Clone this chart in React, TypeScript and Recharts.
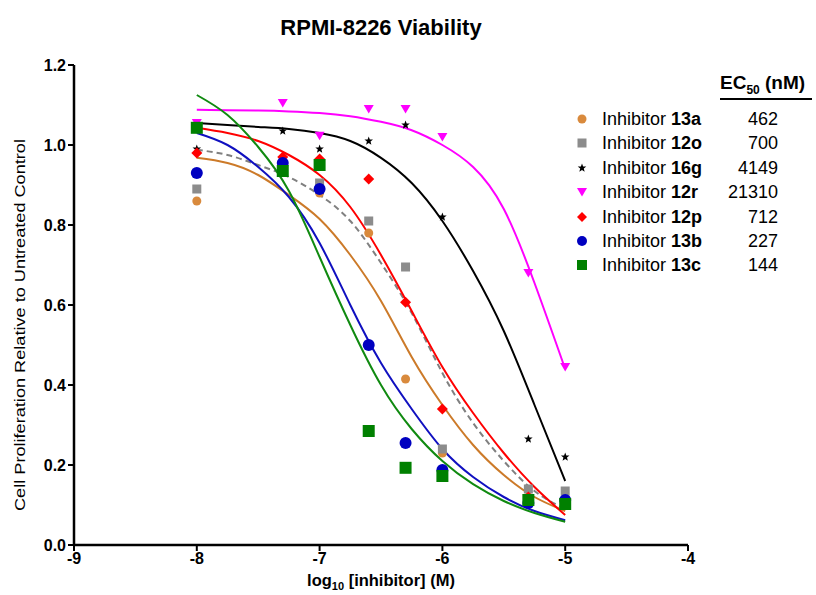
import React from "react";
import { ComposedChart, Line, Scatter, XAxis, YAxis } from "recharts";

const doseLog = [-8, -7.3, -7, -6.6, -6.3, -6, -5.3, -5];
const fitLog = [-8, -7.75, -7.5, -7.25, -7, -6.75, -6.5, -6.25, -6, -5.75, -5.5, -5.25, -5];

const xTicks = [-9, -8, -7, -6, -5, -4];
const yTicks = [0, 0.2, 0.4, 0.6, 0.8, 1.0, 1.2];

const pts13a = [0.86, 0.94, 0.88, 0.78, 0.415, 0.23, 0.12, 0.11];
const pts12o = [0.89, 0.94, 0.905, 0.81, 0.695, 0.24, 0.14, 0.135];
const pts16g = [0.99, 1.035, 0.99, 1.01, 1.05, 0.82, 0.265, 0.22];
const pts12r = [1.055, 1.105, 1.023, 1.09, 1.09, 1.02, 0.68, 0.445];
const pts12p = [0.98, 0.97, 0.965, 0.915, 0.607, 0.34, 0.12, 0.11];
const pts13b = [0.93, 0.955, 0.89, 0.5, 0.255, 0.1875, 0.105, 0.1125];
const pts13c = [1.043, 0.935, 0.95, 0.285, 0.193, 0.1725, 0.1125, 0.1025];

const fit13a = [0.968, 0.955, 0.925, 0.875, 0.815, 0.725, 0.61, 0.47, 0.35, 0.25, 0.175, 0.12, 0.085];
const fit12o = [0.988, 0.975, 0.95, 0.92, 0.875, 0.81, 0.705, 0.58, 0.43, 0.305, 0.21, 0.135, 0.09];
const fit16g = [1.055, 1.05, 1.045, 1.04, 1.03, 1.01, 0.968, 0.905, 0.81, 0.685, 0.535, 0.35, 0.16];
const fit12r = [1.088, 1.087, 1.086, 1.084, 1.08, 1.072, 1.058, 1.037, 1.0, 0.945, 0.84, 0.655, 0.44];
const fit12p = [1.043, 1.03, 1.01, 0.975, 0.925, 0.845, 0.725, 0.585, 0.445, 0.33, 0.23, 0.145, 0.075];
const fit13b = [1.03, 1.0, 0.945, 0.87, 0.755, 0.6, 0.455, 0.34, 0.24, 0.17, 0.12, 0.085, 0.062];
const fit13c = [1.125, 1.075, 0.995, 0.885, 0.72, 0.55, 0.4, 0.29, 0.21, 0.152, 0.11, 0.08, 0.058];

const names = ["13a", "12o", "16g", "12r", "12p", "13b", "13c"];
const ec50 = ["462", "700", "4149", "21310", "712", "227", "144"];

type Kind = "circle" | "square" | "star" | "triDown" | "diamond";

const series = [
  { code: names[0], ec: ec50[0], color: "#D98A3D", line: "#CC7A29", kind: "circle" as Kind, size: 9, pts: pts13a, fit: fit13a },
  { code: names[1], ec: ec50[1], color: "#8C8C8C", line: "#808080", kind: "square" as Kind, size: 9, pts: pts12o, fit: fit12o, dash: "6 4" },
  { code: names[2], ec: ec50[2], color: "#000000", line: "#000000", kind: "star" as Kind, size: 9, pts: pts16g, fit: fit16g },
  { code: names[3], ec: ec50[3], color: "#FF00FF", line: "#FF00FF", kind: "triDown" as Kind, size: 10, pts: pts12r, fit: fit12r },
  { code: names[4], ec: ec50[4], color: "#FF0000", line: "#FF0000", kind: "diamond" as Kind, size: 11, pts: pts12p, fit: fit12p },
  { code: names[5], ec: ec50[5], color: "#0000C0", line: "#1010C0", kind: "circle" as Kind, size: 12, pts: pts13b, fit: fit13b },
  { code: names[6], ec: ec50[6], color: "#008000", line: "#108A10", kind: "square" as Kind, size: 12, pts: pts13c, fit: fit13c },
];

const FONT = "'Liberation Sans', Arial, sans-serif";

function Marker({ kind, color, cx, cy, size }: { kind: Kind; color: string; cx: number; cy: number; size: number }) {
  const h = size / 2;
  if (kind === "circle") return <circle cx={cx} cy={cy} r={h} fill={color} />;
  if (kind === "square") return <rect x={cx - h} y={cy - h} width={size} height={size} fill={color} />;
  if (kind === "diamond")
    return <polygon points={`${cx},${cy - h} ${cx + h},${cy} ${cx},${cy + h} ${cx - h},${cy}`} fill={color} />;
  if (kind === "triDown")
    return <polygon points={`${cx - h},${cy - h * 0.8} ${cx + h},${cy - h * 0.8} ${cx},${cy + h * 0.9}`} fill={color} />;
  const pts: string[] = [];
  for (let i = 0; i < 10; i++) {
    const r = i % 2 === 0 ? h : h * 0.42;
    const a = -Math.PI / 2 + (i * Math.PI) / 5;
    pts.push(`${cx + r * Math.cos(a)},${cy + r * Math.sin(a)}`);
  }
  return <polygon points={pts.join(" ")} fill={color} />;
}

function XLabel(props: any) {
  const vb = props.viewBox || {};
  const cx = vb.x + vb.width / 2;
  return (
    <text x={cx} y={vb.y + 41} textAnchor="middle" fontFamily={FONT} fontWeight="bold" fontSize={16.5} fill="#000">
      log
      <tspan fontSize={11} dy={4}>10</tspan>
      <tspan dy={-4}> [inhibitor] (M)</tspan>
    </text>
  );
}

function YLabel(props: any) {
  const vb = props.viewBox || {};
  const cy = vb.y + vb.height / 2 + 20;
  return (
    <text
      x={25}
      y={cy}
      transform={`rotate(-90 25 ${cy})`}
      textAnchor="middle"
      fontFamily={FONT}
      fontSize={15}
      textLength={372}
      lengthAdjust="spacingAndGlyphs"
      fill="#000"
    >
      Cell Proliferation Relative to Untreated Control
    </text>
  );
}

export default function App() {
  return (
    <div style={{ position: "absolute", left: 0, top: 0, width: 816, height: 595, background: "#fff", fontFamily: FONT }}>
      <div style={{ position: "absolute", left: 0, width: 762, top: 15, textAlign: "center", fontWeight: "bold", fontSize: 22 }}>
        RPMI-8226 Viability
      </div>

      <ComposedChart width={816} height={595} margin={{ top: 65, right: 128, bottom: 20, left: 14 }}>
        <XAxis
          type="number"
          dataKey="x"
          domain={[-9, -4]}
          ticks={xTicks}
          allowDataOverflow
          height={30}
          tickSize={6}
          tick={{ fill: "#000", fontSize: 16, fontWeight: "bold", fontFamily: FONT }}
          axisLine={{ stroke: "#000", strokeWidth: 2.5 }}
          tickLine={{ stroke: "#000", strokeWidth: 2 }}
          label={<XLabel />}
        />
        <YAxis
          type="number"
          domain={[0, 1.2]}
          ticks={yTicks}
          allowDataOverflow
          width={60}
          tickSize={6}
          tickFormatter={(v: number) => v.toFixed(1)}
          tick={{ fill: "#000", fontSize: 16, fontWeight: "bold", fontFamily: FONT }}
          axisLine={{ stroke: "#000", strokeWidth: 2.5 }}
          tickLine={{ stroke: "#000", strokeWidth: 2 }}
          label={<YLabel />}
        />
        {series.map((s) => (
          <Line
            key={"fit" + s.code}
            data={fitLog.map((x, i) => ({ x, y: s.fit[i] }))}
            dataKey="y"
            type="natural"
            stroke={s.line}
            strokeWidth={2}
            strokeDasharray={s.dash}
            dot={false}
            activeDot={false}
            isAnimationActive={false}
          />
        ))}
        {series.map((s) => (
          <Scatter
            key={"pts" + s.code}
            data={doseLog.map((x, i) => ({ x, y: s.pts[i] }))}
            dataKey="y"
            isAnimationActive={false}
            shape={(p: any) => <Marker kind={s.kind} color={s.color} cx={p.cx} cy={p.cy} size={s.size} />}
          />
        ))}
      </ComposedChart>

      <div style={{ position: "absolute", left: 720, top: 72, fontWeight: "bold", fontSize: 19, borderBottom: "2.5px solid #000", paddingBottom: 1, width: 92 }}>
        EC<sub style={{ fontSize: 12 }}>50</sub> (nM)
      </div>
      {series.map((s, i) => (
        <div key={"lg" + s.code} style={{ position: "absolute", left: 574, top: 107 + i * 24.4, height: 24, width: 210, fontSize: 18, lineHeight: "24px" }}>
          <svg width={16} height={24} style={{ position: "absolute", left: 0, top: 0 }}>
            <Marker kind={s.kind} color={s.color} cx={8} cy={12} size={Math.min(s.size, 10)} />
          </svg>
          <span style={{ position: "absolute", left: 28, whiteSpace: "nowrap" }}>
            Inhibitor <b>{s.code}</b>
          </span>
          <span style={{ position: "absolute", right: 6, textAlign: "right" }}>{s.ec}</span>
        </div>
      ))}
    </div>
  );
}
